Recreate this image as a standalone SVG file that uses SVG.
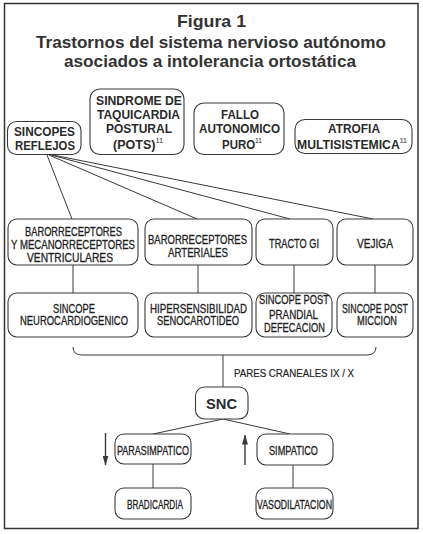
<svg xmlns="http://www.w3.org/2000/svg" width="423" height="534" viewBox="0 0 423 534">
<style>
.bg{fill:#fff}
.frame{fill:none;stroke:#333;stroke-width:1.5}
.box{fill:#fff;stroke:#3a3a3a;stroke-width:1.1}
.ln{fill:none;stroke:#3a3a3a;stroke-width:1}
.title{font-family:"Liberation Sans",Arial,sans-serif;font-weight:bold;font-size:17px;fill:#333}
.tb{font-family:"Liberation Sans",Arial,sans-serif;font-weight:bold;font-size:13px;fill:#2a2a2a}
.t{font-family:"Liberation Sans",Arial,sans-serif;font-size:12px;fill:#1e1e1e;stroke:#1e1e1e;stroke-width:0.3}
.sup{font-size:7.5px;font-weight:normal}
.snc{font-family:"Liberation Sans",Arial,sans-serif;font-weight:bold;font-size:15px;fill:#2a2a2a}
.arr{fill:none;stroke:#3a3a3a;stroke-width:1.4}
</style>
<defs>
<marker id="ah" viewBox="0 0 10 6" refX="9.5" refY="3" markerWidth="10" markerHeight="6" markerUnits="userSpaceOnUse" orient="auto" preserveAspectRatio="none">
<path d="M0,0 L10,3 L0,6 Z" fill="#3a3a3a"/>
</marker>
</defs>
<rect class="bg" x="0" y="0" width="423" height="534"/>
<rect class="frame" x="4.5" y="3.5" width="413.5" height="525"/>
<g id="title">
<text class="title" x="177" y="27" textLength="69" lengthAdjust="spacingAndGlyphs">Figura 1</text>
<text class="title" x="36" y="47.5" textLength="350" lengthAdjust="spacingAndGlyphs">Trastornos del sistema nervioso autónomo</text>
<text class="title" x="64" y="67" textLength="292" lengthAdjust="spacingAndGlyphs">asociados a intolerancia ortostática</text>
</g>
<g id="connectors">
<line class="ln" x1="47" y1="155" x2="72" y2="219"/>
<line class="ln" x1="49" y1="155" x2="197" y2="219"/>
<line class="ln" x1="51" y1="155" x2="290" y2="219"/>
<line class="ln" x1="53" y1="155" x2="373" y2="219"/>
<line class="ln" x1="73" y1="265" x2="73" y2="293"/>
<line class="ln" x1="198" y1="265" x2="198" y2="293"/>
<line class="ln" x1="294" y1="265" x2="294" y2="293"/>
<line class="ln" x1="375" y1="265" x2="375" y2="293"/>
<path class="ln" d="M73,347 Q73,355 82,355 L367,355 Q376,355 376,347"/>
<line class="ln" x1="223" y1="355" x2="223" y2="387"/>
<line class="ln" x1="223" y1="419" x2="153" y2="434"/>
<line class="ln" x1="223" y1="419" x2="290" y2="434"/>
<line class="ln" x1="153" y1="464" x2="153" y2="488"/>
<line class="ln" x1="293" y1="465" x2="293" y2="488"/>
<line class="arr" x1="105.5" y1="433" x2="105.5" y2="465" marker-end="url(#ah)"/>
<line class="arr" x1="245" y1="465" x2="245" y2="435" marker-end="url(#ah)"/>
</g>
<g id="n-sincopes-reflejos">
<rect class="box" x="7.5" y="121.5" width="73.5" height="33" rx="9"/>
<text class="tb" x="14" y="136" textLength="61" lengthAdjust="spacingAndGlyphs">SINCOPES</text>
<text class="tb" x="15" y="150" textLength="60" lengthAdjust="spacingAndGlyphs">REFLEJOS</text>
</g>
<g id="n-pots">
<rect class="box" x="90" y="89" width="94" height="65.5" rx="10"/>
<text class="tb" x="96" y="105" textLength="86" lengthAdjust="spacingAndGlyphs">SINDROME DE</text>
<text class="tb" x="97" y="119" textLength="83" lengthAdjust="spacingAndGlyphs">TAQUICARDIA</text>
<text class="tb" x="106" y="133" textLength="66" lengthAdjust="spacingAndGlyphs">POSTURAL</text>
<text class="tb" x="113" y="149" textLength="50" lengthAdjust="spacingAndGlyphs">(POTS)<tspan class="sup" dy="-6">11</tspan></text>
</g>
<g id="n-fallo">
<rect class="box" x="194" y="103" width="90" height="51.5" rx="10"/>
<text class="tb" x="221" y="119" textLength="38" lengthAdjust="spacingAndGlyphs">FALLO</text>
<text class="tb" x="199" y="133" textLength="81" lengthAdjust="spacingAndGlyphs">AUTONOMICO</text>
<text class="tb" x="222" y="149" textLength="40" lengthAdjust="spacingAndGlyphs">PURO<tspan class="sup" dy="-6">11</tspan></text>
</g>
<g id="n-atrofia">
<rect class="box" x="295" y="119.5" width="117" height="34" rx="10"/>
<text class="tb" x="328" y="133" textLength="52" lengthAdjust="spacingAndGlyphs">ATROFIA</text>
<text class="tb" x="297" y="149" textLength="110" lengthAdjust="spacingAndGlyphs">MULTISISTEMICA<tspan class="sup" dy="-6">11</tspan></text>
</g>
<g id="n-baro-mecano">
<rect class="box" x="8" y="219" width="130" height="46" rx="9"/>
<text class="t" x="25" y="236" textLength="97" lengthAdjust="spacingAndGlyphs">BARORRECEPTORES</text>
<text class="t" x="11" y="249" textLength="124" lengthAdjust="spacingAndGlyphs">Y MECANORRECEPTORES</text>
<text class="t" x="27" y="261.5" textLength="86" lengthAdjust="spacingAndGlyphs">VENTRICULARES</text>
</g>
<g id="n-baro-arteriales">
<rect class="box" x="145" y="219" width="107" height="46" rx="9"/>
<text class="t" x="148" y="243.5" textLength="99" lengthAdjust="spacingAndGlyphs">BARORRECEPTORES</text>
<text class="t" x="168" y="256.5" textLength="60" lengthAdjust="spacingAndGlyphs">ARTERIALES</text>
</g>
<g id="n-tracto-gi">
<rect class="box" x="256" y="219" width="77" height="46" rx="9"/>
<text class="t" x="269" y="247.5" textLength="50" lengthAdjust="spacingAndGlyphs">TRACTO GI</text>
</g>
<g id="n-vejiga">
<rect class="box" x="337" y="219" width="76" height="46" rx="9"/>
<text class="t" x="357" y="247.5" textLength="36" lengthAdjust="spacingAndGlyphs">VEJIGA</text>
</g>
<g id="n-neurocardiogenico">
<rect class="box" x="8" y="293" width="130" height="44" rx="9"/>
<text class="t" x="53" y="312.5" textLength="42" lengthAdjust="spacingAndGlyphs">SINCOPE</text>
<text class="t" x="20" y="325" textLength="108" lengthAdjust="spacingAndGlyphs">NEUROCARDIOGENICO</text>
</g>
<g id="n-hipersensibilidad">
<rect class="box" x="145" y="293" width="107" height="44" rx="9"/>
<text class="t" x="150" y="312.5" textLength="97" lengthAdjust="spacingAndGlyphs">HIPERSENSIBILIDAD</text>
<text class="t" x="157" y="325" textLength="82" lengthAdjust="spacingAndGlyphs">SENOCAROTIDEO</text>
</g>
<g id="n-post-prandial">
<rect class="box" x="256" y="293" width="76" height="44" rx="9"/>
<text class="t" x="259" y="304" textLength="70" lengthAdjust="spacingAndGlyphs">SINCOPE POST</text>
<text class="t" x="269" y="318.5" textLength="49" lengthAdjust="spacingAndGlyphs">PRANDIAL</text>
<text class="t" x="264" y="332" textLength="61" lengthAdjust="spacingAndGlyphs">DEFECACION</text>
</g>
<g id="n-post-miccion">
<rect class="box" x="337" y="293" width="76" height="44" rx="9"/>
<text class="t" x="342" y="312.5" textLength="66" lengthAdjust="spacingAndGlyphs">SINCOPE POST</text>
<text class="t" x="357" y="325" textLength="40" lengthAdjust="spacingAndGlyphs">MICCION</text>
</g>
<g id="label-pares">
<text class="t" x="234" y="377" style="font-size:11px;stroke-width:0.2" textLength="120" lengthAdjust="spacingAndGlyphs">PARES CRANEALES IX / X</text>
</g>
<g id="n-snc">
<rect class="box" x="195.5" y="387" width="52.5" height="32" rx="9"/>
<text class="snc" x="206" y="408.5" textLength="31" lengthAdjust="spacingAndGlyphs">SNC</text>
</g>
<g id="n-parasimpatico">
<rect class="box" x="115" y="434" width="76" height="30" rx="9"/>
<text class="t" x="117" y="455" textLength="72" lengthAdjust="spacingAndGlyphs">PARASIMPATICO</text>
</g>
<g id="n-simpatico">
<rect class="box" x="257" y="434" width="76" height="31" rx="9"/>
<text class="t" x="269" y="455" textLength="49" lengthAdjust="spacingAndGlyphs">SIMPATICO</text>
</g>
<g id="n-bradicardia">
<rect class="box" x="115" y="488" width="76" height="31" rx="9"/>
<text class="t" x="127" y="509" textLength="56" lengthAdjust="spacingAndGlyphs">BRADICARDIA</text>
</g>
<g id="n-vasodilatacion">
<rect class="box" x="256" y="488" width="77" height="31" rx="9"/>
<text class="t" x="257" y="509" textLength="75" lengthAdjust="spacingAndGlyphs">VASODILATACION</text>
</g>
</svg>
